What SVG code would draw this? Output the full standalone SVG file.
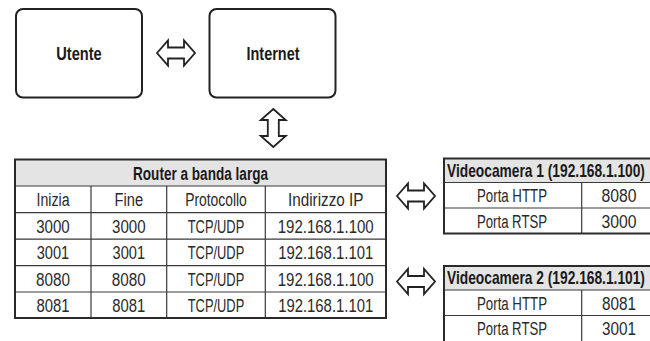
<svg xmlns="http://www.w3.org/2000/svg" width="650" height="341" viewBox="0 0 650 341">
<style>
.box{fill:#fff;stroke:#222;stroke-width:2}
.outer{fill:none;stroke:#2a2a2a;stroke-width:2}
.hdr{fill:#e4e4e4;stroke:none}
.ln{stroke:#3a3a3a;stroke-width:1.2;fill:none}
.arrow{fill:#fff;stroke:#222;stroke-width:1.8;stroke-linejoin:miter}
text{font-family:"Liberation Sans",Arial,sans-serif;text-anchor:middle;fill:#2a2a2a}
.t{font-size:18px}
.b{font-size:18px;font-weight:bold;fill:#1a1a1a}
.big{font-size:18.5px;font-weight:bold;fill:#1a1a1a}
</style>
<defs>
<path id="dbl" d="M-19,0 L-8,-12.5 L-8,-5.5 L8,-5.5 L8,-12.5 L19,0 L8,12.5 L8,5.5 L-8,5.5 L-8,12.5 Z"/>
</defs>
<rect width="650" height="341" fill="#fff"/>
<g id="utente">
<rect class="box" x="16" y="9" width="126" height="88.5" rx="7"/>
<text class="big" x="79" y="59.8" textLength="45.5" lengthAdjust="spacingAndGlyphs">Utente</text>
</g>
<g id="internet">
<rect class="box" x="209.5" y="9" width="126" height="88.5" rx="7"/>
<text class="big" x="273" y="59.8" textLength="53" lengthAdjust="spacingAndGlyphs">Internet</text>
</g>
<g id="router">
<rect class="hdr" x="15" y="159.5" width="371" height="26.5"/>
<path class="ln" d="M15,186H386M15,212.6H386M15,239.2H386M15,265.6H386M15,292H386M91,186V318M166.7,186V318M265.3,186V318"/>
<rect class="outer" x="15" y="159.5" width="371" height="158.5"/>
<text class="b" x="200.5" y="179.8" textLength="135" lengthAdjust="spacingAndGlyphs">Router a banda larga</text>
<text class="t" x="53" y="206.2" textLength="33" lengthAdjust="spacingAndGlyphs">Inizia</text>
<text class="t" x="128.8" y="206.2" textLength="28.5" lengthAdjust="spacingAndGlyphs">Fine</text>
<text class="t" x="216" y="206.2" textLength="61.5" lengthAdjust="spacingAndGlyphs">Protocollo</text>
<text class="t" x="325.7" y="206.2" textLength="75.5" lengthAdjust="spacingAndGlyphs">Indirizzo IP</text>
<text class="t" x="53" y="232.8" textLength="33.5" lengthAdjust="spacingAndGlyphs">3000</text>
<text class="t" x="128.8" y="232.8" textLength="33.5" lengthAdjust="spacingAndGlyphs">3000</text>
<text class="t" x="216" y="232.8" textLength="56.5" lengthAdjust="spacingAndGlyphs">TCP/UDP</text>
<text class="t" x="325.7" y="232.8" textLength="96" lengthAdjust="spacingAndGlyphs">192.168.1.100</text>
<text class="t" x="53" y="259.3" textLength="32.5" lengthAdjust="spacingAndGlyphs">3001</text>
<text class="t" x="128.8" y="259.3" textLength="32.5" lengthAdjust="spacingAndGlyphs">3001</text>
<text class="t" x="216" y="259.3" textLength="56.5" lengthAdjust="spacingAndGlyphs">TCP/UDP</text>
<text class="t" x="325.7" y="259.3" textLength="95" lengthAdjust="spacingAndGlyphs">192.168.1.101</text>
<text class="t" x="53" y="285.7" textLength="34" lengthAdjust="spacingAndGlyphs">8080</text>
<text class="t" x="128.8" y="285.7" textLength="34" lengthAdjust="spacingAndGlyphs">8080</text>
<text class="t" x="216" y="285.7" textLength="56.5" lengthAdjust="spacingAndGlyphs">TCP/UDP</text>
<text class="t" x="325.7" y="285.7" textLength="96" lengthAdjust="spacingAndGlyphs">192.168.1.100</text>
<text class="t" x="53" y="311.9" textLength="33" lengthAdjust="spacingAndGlyphs">8081</text>
<text class="t" x="128.8" y="311.9" textLength="33" lengthAdjust="spacingAndGlyphs">8081</text>
<text class="t" x="216" y="311.9" textLength="56.5" lengthAdjust="spacingAndGlyphs">TCP/UDP</text>
<text class="t" x="325.7" y="311.9" textLength="95" lengthAdjust="spacingAndGlyphs">192.168.1.101</text>
</g>
<g id="camera1">
<rect class="hdr" x="444" y="158.5" width="212" height="24"/>
<path class="ln" d="M444,182.5H656M444,208H656M581.7,182.5V233.5"/>
<rect class="outer" x="444" y="158.5" width="212" height="75"/>
<text class="b" transform="translate(546,177) scale(0.765,1)">Videocamera 1 (192.168.1.100)</text>
<text class="t" x="512" y="202" textLength="70" lengthAdjust="spacingAndGlyphs">Porta HTTP</text>
<text class="t" x="619" y="202" textLength="35" lengthAdjust="spacingAndGlyphs">8080</text>
<text class="t" x="512" y="227.5" textLength="70" lengthAdjust="spacingAndGlyphs">Porta RTSP</text>
<text class="t" x="619" y="227.5" textLength="35" lengthAdjust="spacingAndGlyphs">3000</text>
</g>
<g id="camera2">
<rect class="hdr" x="444" y="266" width="212" height="24"/>
<path class="ln" d="M444,290H656M444,315.5H656M581.7,290V350"/>
<rect class="outer" x="444" y="266" width="212" height="90"/>
<text class="b" transform="translate(546,284) scale(0.765,1)">Videocamera 2 (192.168.1.101)</text>
<text class="t" x="512" y="309.5" textLength="70" lengthAdjust="spacingAndGlyphs">Porta HTTP</text>
<text class="t" x="619" y="309.5" textLength="34" lengthAdjust="spacingAndGlyphs">8081</text>
<text class="t" x="512" y="335" textLength="70" lengthAdjust="spacingAndGlyphs">Porta RTSP</text>
<text class="t" x="619" y="335" textLength="34" lengthAdjust="spacingAndGlyphs">3001</text>
</g>
<g id="connectors">
<use href="#dbl" class="arrow" transform="translate(176,53)"/>
<use href="#dbl" class="arrow" transform="translate(273.3,128) rotate(90)"/>
<use href="#dbl" class="arrow" transform="translate(416,196)"/>
<use href="#dbl" class="arrow" transform="translate(416,281.5)"/>
</g>
</svg>
